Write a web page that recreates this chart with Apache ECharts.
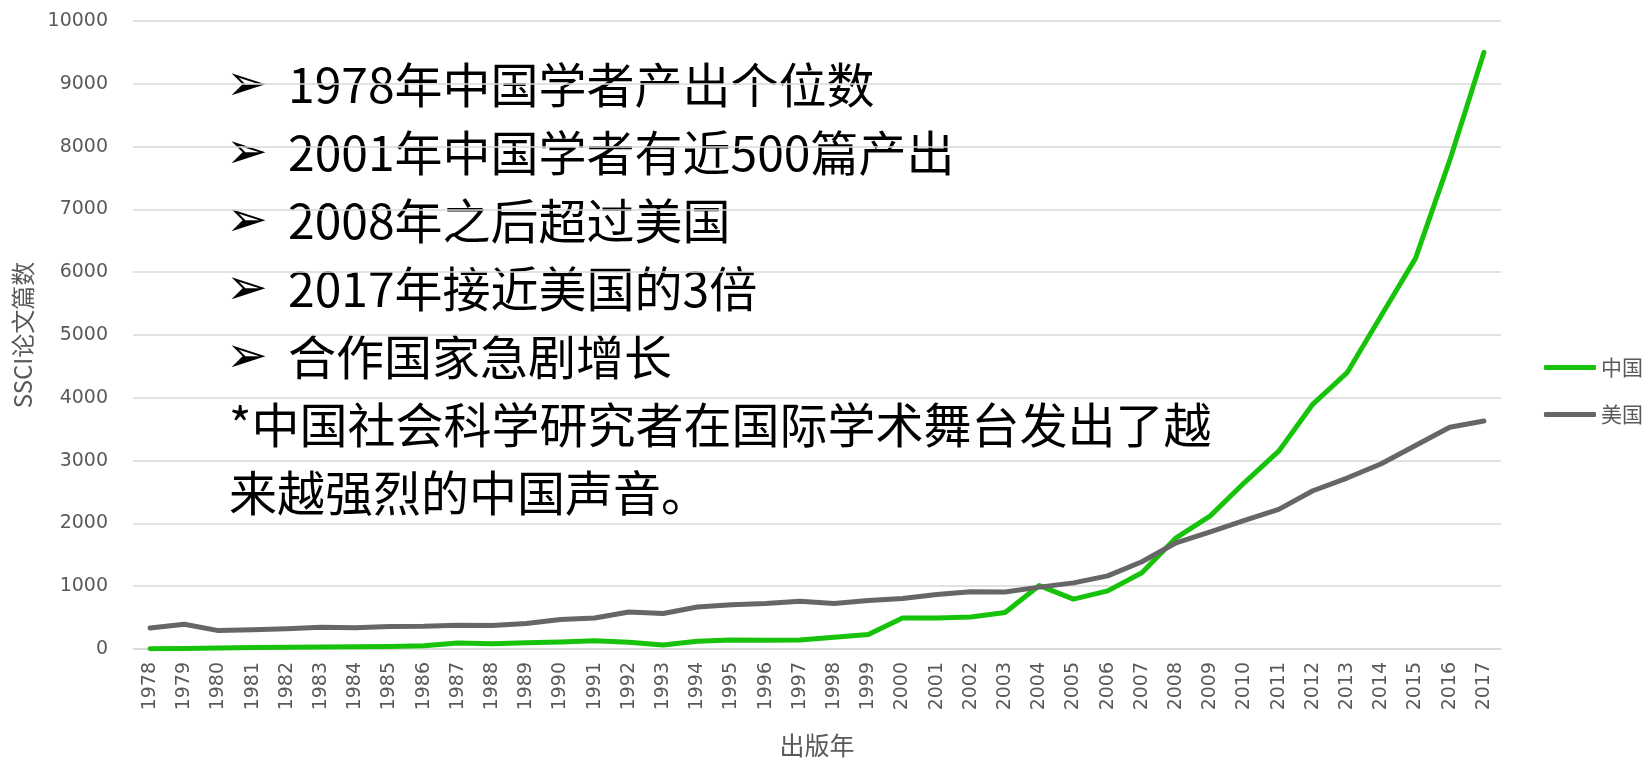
<!DOCTYPE html>
<html>
<head>
<meta charset="utf-8">
<script src="https://cdn.jsdelivr.net/npm/echarts@6/dist/echarts.min.js"></script>
<style>
  html, body { margin: 0; padding: 0; background: #fff; }
  #chart { width: 1646px; height: 759px; }
</style>
</head>
<body>
<div id="chart"></div>
<script>
// 数据
var years = [
  "1978", "1979", "1980", "1981", "1982", "1983", "1984", "1985", "1986", "1987",
  "1988", "1989", "1990", "1991", "1992", "1993", "1994", "1995", "1996", "1997",
  "1998", "1999", "2000", "2001", "2002", "2003", "2004", "2005", "2006", "2007",
  "2008", "2009", "2010", "2011", "2012", "2013", "2014", "2015", "2016", "2017"
];
var chinaCounts = [
  5, 8, 15, 22, 26, 30, 34, 40, 50, 95,
  82, 98, 112, 130, 107, 62, 123, 144, 138, 144,
  187, 232, 494, 494, 510, 580, 1010, 795, 925, 1215,
  1770, 2120, 2650, 3150, 3900, 4400, 5310, 6220, 7780, 9500
];
var usaCounts = [
  335, 395, 293, 305, 322, 345, 340, 360, 362, 378,
  373, 405, 469, 494, 590, 565, 670, 705, 724, 761,
  724, 772, 804, 868, 912, 909, 985, 1053, 1165, 1390,
  1691, 1866, 2048, 2223, 2520, 2722, 2950, 3240, 3530, 3630
];
var bulletLines = [
  "1978年中国学者产出个位数",
  "2001年中国学者有近500篇产出",
  "2008年之后超过美国",
  "2017年接近美国的3倍",
  "合作国家急剧增长"
];
var noteLines = [
  "*中国社会科学研究者在国际学术舞台发出了越",
  "来越强烈的中国声音。"
];

var myChart = echarts.init(document.getElementById("chart"));

// 注释文字
var textFont = '48px "Noto Sans CJK SC", sans-serif';
var graphics = [];
var rowY = 85;
bulletLines.forEach(function (t) {
  graphics.push({
    type: "text",
    style: { x: 226, y: rowY + 2, text: "➢", fill: "#000", font: '50px "DejaVu Sans"', verticalAlign: "middle" }
  });
  graphics.push({
    type: "text",
    style: { x: 288, y: rowY, text: t, fill: "#000", font: textFont, verticalAlign: "middle" }
  });
  rowY += 68;
});
noteLines.forEach(function (t) {
  graphics.push({
    type: "text",
    style: { x: 229, y: rowY, text: t, fill: "#000", font: textFont, verticalAlign: "middle" }
  });
  rowY += 68;
});

var option = {
  animation: false,
  textStyle: { fontFamily: '"Noto Sans CJK SC", sans-serif' },
  grid: {
    left: 133,
    right: 145,
    top: 21,
    bottom: 110,
    containLabel: false,
    outerBoundsMode: "none"
  },
  legend: {
    orient: "vertical",
    left: 1539,
    top: 352,
    itemWidth: 52,
    itemHeight: 5,
    itemGap: 26,
    icon: "roundRect",
    textStyle: { color: "#595959", fontSize: 21, lineHeight: 21 },
    data: ["中国", "美国"]
  },
  xAxis: {
    type: "category",
    boundaryGap: true,
    data: years,
    name: "出版年",
    nameLocation: "middle",
    nameGap: 84,
    nameTextStyle: { color: "#595959", fontSize: 25 },
    axisTick: { show: false },
    axisLine: { lineStyle: { color: "#d9d9d9", width: 1.5 } },
    axisLabel: {
      rotate: 90,
      interval: 0,
      margin: 13,
      color: "#595959",
      fontSize: 19,
      fontFamily: "DejaVu Sans"
    }
  },
  yAxis: {
    type: "value",
    min: 0,
    max: 10000,
    interval: 1000,
    name: "SSCI论文篇数",
    nameLocation: "middle",
    nameGap: 98,
    nameTextStyle: { color: "#595959", fontSize: 24 },
    axisLine: { show: false },
    axisTick: { show: false },
    axisLabel: {
      margin: 25,
      color: "#595959",
      fontSize: 19,
      fontFamily: "DejaVu Sans",
      formatter: function (v) { return String(v); }
    },
    splitLine: { lineStyle: { color: "#d9d9d9", width: 1.5 } }
  },
  series: [
    {
      name: "中国",
      type: "line",
      data: chinaCounts,
      symbol: "none",
      color: "#17c20a",
      lineStyle: { color: "#17c20a", width: 5, cap: "round", join: "round" }
    },
    {
      name: "美国",
      type: "line",
      data: usaCounts,
      symbol: "none",
      color: "#666666",
      lineStyle: { color: "#666666", width: 5, cap: "round", join: "round" }
    }
  ],
  graphic: graphics
};

myChart.setOption(option);
window.addEventListener("resize", function () {
  myChart.resize();
});
</script>
</body>
</html>
